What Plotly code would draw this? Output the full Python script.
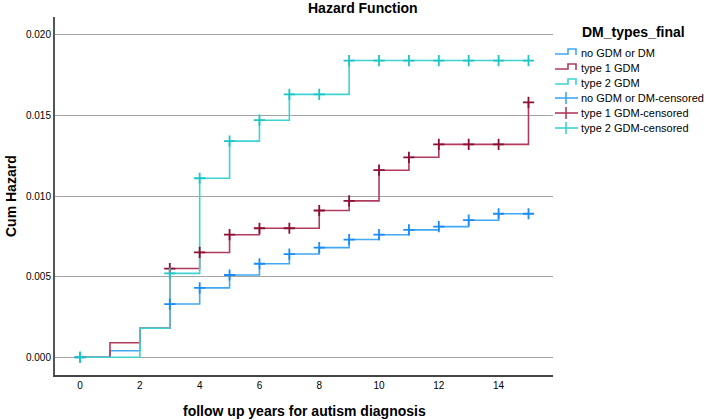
import plotly.graph_objects as go

# ---- data ----
years = [0, 1, 2, 3, 4, 5, 6, 7, 8, 9, 10, 11, 12, 13, 14, 15]
no_gdm = [0.0, 0.0004, 0.0018, 0.0033, 0.0043, 0.0051, 0.0058, 0.0064, 0.0068,
          0.0073, 0.0076, 0.0079, 0.0081, 0.0085, 0.0089, 0.0089]
type1 = [0.0, 0.0009, 0.0018, 0.0055, 0.0065, 0.0076, 0.0080, 0.0080, 0.0091,
         0.0097, 0.0116, 0.0124, 0.0132, 0.0132, 0.0132, 0.0158]
type2 = [0.0, 0.0, 0.0018, 0.0052, 0.0111, 0.0134, 0.0147, 0.0163, 0.0163,
         0.0184, 0.0184, 0.0184, 0.0184, 0.0184, 0.0184, 0.0184]
cens_no_gdm = [0, 3, 4, 5, 6, 7, 8, 9, 10, 11, 12, 13, 14, 15]
cens_type1 = [3, 4, 5, 6, 7, 8, 9, 10, 11, 12, 13, 14, 15]
cens_type2 = [0, 3, 4, 5, 6, 7, 8, 9, 10, 11, 12, 13, 14, 15]
names = ["no GDM or DM", "type 1 GDM", "type 2 GDM"]
x_ticks = [0, 2, 4, 6, 8, 10, 12, 14]
y_ticks = [0.0, 0.005, 0.010, 0.015, 0.020]

# ---- styles ----
line_cols = ["#42a8f2", "#b13b5d", "#3ed2d2"]
mark_cols = ["#1b8cf5", "#8c0f33", "#1fc4c4"]
FONT = "Arial, Liberation Sans, sans-serif"

# plot area in pixels
L, R, T, B = 55, 553, 17, 375
W, H = 708, 420


def px(x):
    return (x - L) / (R - L)


def py(y):
    return (B - y) / (B - T)


fig = go.Figure()
series = [no_gdm, type1, type2]
cens = [cens_no_gdm, cens_type1, cens_type2]
for i in range(3):
    fig.add_trace(go.Scatter(x=years, y=series[i], mode="lines", line_shape="hv",
                             line=dict(color=line_cols[i], width=1.6),
                             name=names[i], showlegend=False, hoverinfo="skip"))
for i in range(3):
    cy = [series[i][years.index(t)] for t in cens[i]]
    fig.add_trace(go.Scatter(x=cens[i], y=cy, mode="markers",
                             marker=dict(symbol="cross-thin", size=8,
                                         line=dict(color=mark_cols[i], width=1.8)),
                             name=names[i] + "-censored", showlegend=False,
                             hoverinfo="skip"))

annotations = [
    dict(text="<b>Hazard Function</b>", x=px(363), y=py(8), xref="paper", yref="paper",
         xanchor="center", yanchor="middle", showarrow=False,
         font=dict(size=14, color="#000", family=FONT)),
    dict(text="<b>Cum Hazard</b>", x=px(11), y=py(196), xref="paper", yref="paper",
         xanchor="center", yanchor="middle", showarrow=False, textangle=-90,
         font=dict(size=14, color="#000", family=FONT)),
    dict(text="<b>follow up years for autism diagnosis</b>", x=px(304), y=py(411),
         xref="paper", yref="paper", xanchor="center", yanchor="middle",
         showarrow=False, font=dict(size=14, color="#000", family=FONT)),
    dict(text="<b>DM_types_final</b>", x=px(580), y=py(32), xref="paper", yref="paper",
         xanchor="left", yanchor="middle", showarrow=False,
         font=dict(size=14, color="#000", family=FONT)),
]
shapes = []
leg_labels = names + [n + "-censored" for n in names]
leg_y = [53, 68, 83, 98, 113, 128]
for k in range(6):
    yk = leg_y[k]
    annotations.append(dict(text=leg_labels[k], x=px(579), y=py(yk), xref="paper",
                            yref="paper", xanchor="left", yanchor="middle",
                            showarrow=False,
                            font=dict(size=11, color="#000", family=FONT)))
    if k < 3:
        c = line_cols[k]
        path = "M {} {} L {} {} L {} {} L {} {} L {} {}".format(
            px(555), py(yk + 1), px(568), py(yk + 1), px(568), py(yk - 4),
            px(576), py(yk - 4), px(576), py(yk + 2))
        shapes.append(dict(type="path", path=path, xref="paper", yref="paper",
                           line=dict(color=c, width=1.6)))
    else:
        c = line_cols[k - 3]
        shapes.append(dict(type="line", x0=px(555), x1=px(578), y0=py(yk), y1=py(yk),
                           xref="paper", yref="paper", line=dict(color=c, width=1.6)))
        shapes.append(dict(type="line", x0=px(566), x1=px(566), y0=py(yk - 6),
                           y1=py(yk + 6), xref="paper", yref="paper",
                           line=dict(color=c, width=1.6)))

fig.update_layout(
    width=W, height=H,
    margin=dict(l=L, r=W - R, t=T, b=H - B, pad=0),
    plot_bgcolor="white", paper_bgcolor="white",
    font=dict(family=FONT, size=10, color="#000"),
    annotations=annotations, shapes=shapes,
    showlegend=False,
)
fig.update_xaxes(range=[-0.84, 15.82], tickvals=x_ticks, ticktext=[str(v) for v in x_ticks],
                 showgrid=False, zeroline=False, showline=True, linecolor="#444",
                 linewidth=2, ticks="", tickfont=dict(size=10, family=FONT))
fig.update_yaxes(range=[-0.0011, 0.0211], tickvals=y_ticks,
                 ticktext=["%.3f" % v for v in y_ticks],
                 showgrid=True, gridcolor="#a3a3a3", gridwidth=1, zeroline=False,
                 showline=True, linecolor="#555", linewidth=2, ticks="",
                 tickfont=dict(size=10, family=FONT))

fig.write_html("out.html")
